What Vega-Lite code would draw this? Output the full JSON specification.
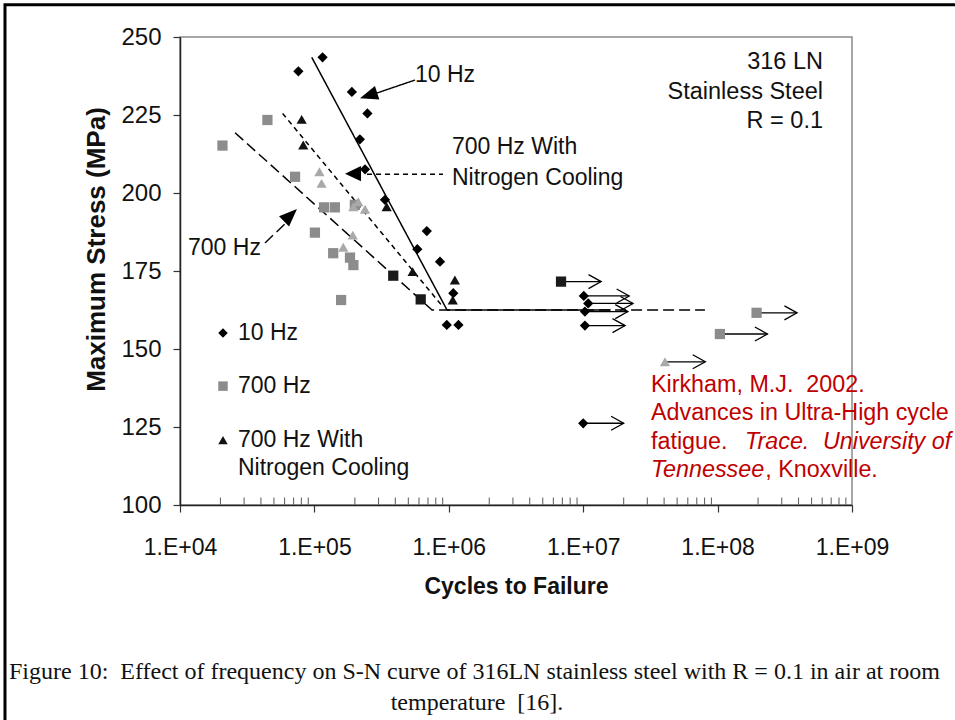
{
  "$schema": "https://vega.github.io/schema/vega-lite/v6.json",
  "width": 672,
  "height": 468,
  "autosize": {"type": "none"},
  "padding": {"left": 180, "top": 37, "right": 103, "bottom": 215},
  "background": "white",
  "config": {
    "view": {"stroke": "#8a8a8a", "strokeWidth": 1.5},
    "font": "Liberation Sans",
    "axis": {"grid": false, "labelFont": "Liberation Sans", "titleFont": "Liberation Sans", "labelColor": "#111", "titleColor": "#111", "domainColor": "#222", "domainWidth": 1.5, "tickColor": "#333", "tickWidth": 1.2, "tickSize": 7}
  },
  "datasets": {
    "points": [
      {"series": "10 Hz", "group": "10 Hz", "cycles": 76000, "stress": 239},
      {"series": "10 Hz", "group": "10 Hz", "cycles": 115000, "stress": 243.5},
      {"series": "10 Hz", "group": "10 Hz", "cycles": 190000, "stress": 232.4},
      {"series": "10 Hz", "group": "10 Hz", "cycles": 248000, "stress": 225.5},
      {"series": "10 Hz", "group": "10 Hz", "cycles": 218000, "stress": 217.2},
      {"series": "10 Hz", "group": "10 Hz", "cycles": 238000, "stress": 207.6},
      {"series": "10 Hz", "group": "10 Hz", "cycles": 335000, "stress": 197.8},
      {"series": "10 Hz", "group": "10 Hz", "cycles": 686000, "stress": 187.8},
      {"series": "10 Hz", "group": "10 Hz", "cycles": 583000, "stress": 182.0},
      {"series": "10 Hz", "group": "10 Hz", "cycles": 860000, "stress": 178.0},
      {"series": "10 Hz", "group": "10 Hz", "cycles": 1080000, "stress": 167.9},
      {"series": "10 Hz", "group": "10 Hz", "cycles": 966000, "stress": 157.7},
      {"series": "10 Hz", "group": "10 Hz", "cycles": 1180000, "stress": 157.7},
      {"series": "10 Hz", "group": "10 Hz", "cycles": 10100000, "stress": 167.0},
      {"series": "10 Hz", "group": "10 Hz", "cycles": 10900000, "stress": 164.6},
      {"series": "10 Hz", "group": "10 Hz", "cycles": 10300000, "stress": 162.0},
      {"series": "10 Hz", "group": "10 Hz", "cycles": 10300000, "stress": 157.5},
      {"series": "10 Hz", "group": "10 Hz", "cycles": 10000000, "stress": 126.2},
      {"series": "700 Hz", "group": "700 Hz", "cycles": 20700, "stress": 215.2},
      {"series": "700 Hz", "group": "700 Hz", "cycles": 44700, "stress": 223.4},
      {"series": "700 Hz", "group": "700 Hz", "cycles": 71800, "stress": 205.2},
      {"series": "700 Hz", "group": "700 Hz", "cycles": 118000, "stress": 195.4},
      {"series": "700 Hz", "group": "700 Hz", "cycles": 142000, "stress": 195.4},
      {"series": "700 Hz", "group": "700 Hz", "cycles": 100900, "stress": 187.3},
      {"series": "700 Hz", "group": "700 Hz", "cycles": 138000, "stress": 180.7},
      {"series": "700 Hz", "group": "700 Hz", "cycles": 184000, "stress": 179.3},
      {"series": "700 Hz", "group": "700 Hz", "cycles": 195000, "stress": 176.9},
      {"series": "700 Hz", "group": "700 Hz", "cycles": 158000, "stress": 165.7},
      {"series": "700 Hz", "group": "700 Hz", "cycles": 200000, "stress": 196.2},
      {"series": "700 Hz", "group": "700 Hz", "cycles": 104000000, "stress": 154.8},
      {"series": "700 Hz", "group": "700 Hz", "cycles": 195000000, "stress": 161.6},
      {"series": "700 Hz", "group": "700 Hz dark", "cycles": 386000, "stress": 173.5},
      {"series": "700 Hz", "group": "700 Hz dark", "cycles": 618000, "stress": 165.9},
      {"series": "700 Hz", "group": "700 Hz dark", "cycles": 6840000, "stress": 171.6},
      {"series": "N2", "group": "N2", "cycles": 80400, "stress": 223.6},
      {"series": "N2", "group": "N2", "cycles": 82600, "stress": 215.4},
      {"series": "N2", "group": "N2", "cycles": 345000, "stress": 195.6},
      {"series": "N2", "group": "N2", "cycles": 538000, "stress": 174.8},
      {"series": "N2", "group": "N2", "cycles": 1110000, "stress": 172.1},
      {"series": "N2", "group": "N2", "cycles": 1070000, "stress": 165.7},
      {"series": "N2", "group": "N2 light", "cycles": 109000, "stress": 206.8},
      {"series": "N2", "group": "N2 light", "cycles": 113000, "stress": 203.1},
      {"series": "N2", "group": "N2 light", "cycles": 195000, "stress": 195.6},
      {"series": "N2", "group": "N2 light", "cycles": 212000, "stress": 197.2},
      {"series": "N2", "group": "N2 light", "cycles": 238000, "stress": 194.8},
      {"series": "N2", "group": "N2 light", "cycles": 193000, "stress": 186.5},
      {"series": "N2", "group": "N2 light", "cycles": 164000, "stress": 182.6},
      {"series": "N2", "group": "N2 light", "cycles": 40600000, "stress": 145.9}
    ],
    "legend": [
      {"series": "10 Hz", "group": "10 Hz", "cycles": 20890, "stress": 155.1},
      {"series": "700 Hz", "group": "700 Hz", "cycles": 20890, "stress": 138.1},
      {"series": "N2", "group": "N2", "cycles": 20890, "stress": 120.8}
    ],
    "runouts": [
      {"cycles": 10100000, "cycles_end": 22000000, "stress": 167.0},
      {"cycles": 10900000, "cycles_end": 23500000, "stress": 164.6},
      {"cycles": 10300000, "cycles_end": 21500000, "stress": 162.0},
      {"cycles": 10300000, "cycles_end": 20500000, "stress": 157.5},
      {"cycles": 10000000, "cycles_end": 20000000, "stress": 126.2},
      {"cycles": 6840000, "cycles_end": 13600000, "stress": 171.6},
      {"cycles": 104000000, "cycles_end": 235000000, "stress": 154.8},
      {"cycles": 195000000, "cycles_end": 390000000, "stress": 161.6},
      {"cycles": 40600000, "cycles_end": 81000000, "stress": 145.9}
    ],
    "fits": [
      {"fit": "10 Hz", "cycles": 95500, "stress": 243.5},
      {"fit": "10 Hz", "cycles": 970000, "stress": 162.5},
      {"fit": "10 Hz", "cycles": 16000000, "stress": 162.5},
      {"fit": "700 Hz", "cycles": 25700, "stress": 219.3},
      {"fit": "700 Hz", "cycles": 750000, "stress": 162.5},
      {"fit": "700 Hz", "cycles": 80500000, "stress": 162.5},
      {"fit": "N2", "cycles": 58000, "stress": 225.5},
      {"fit": "N2", "cycles": 905000, "stress": 163.5}
    ],
    "leaders": [
      {"leader": "10 Hz", "cycles": 560500, "stress": 236.2},
      {"leader": "10 Hz", "cycles": 292000, "stress": 232.05},
      {"leader": "N2", "cycles": 246300, "stress": 206.0},
      {"leader": "N2", "cycles": 905000, "stress": 206.0},
      {"leader": "700 Hz", "cycles": 42900, "stress": 184.0},
      {"leader": "700 Hz", "cycles": 62500, "stress": 190.7}
    ],
    "minor": [
      {"cycles": 20000, "stress": 100}, {"cycles": 30000, "stress": 100}, {"cycles": 40000, "stress": 100}, {"cycles": 50000, "stress": 100}, {"cycles": 60000, "stress": 100}, {"cycles": 70000, "stress": 100}, {"cycles": 80000, "stress": 100}, {"cycles": 90000, "stress": 100},
      {"cycles": 200000, "stress": 100}, {"cycles": 300000, "stress": 100}, {"cycles": 400000, "stress": 100}, {"cycles": 500000, "stress": 100}, {"cycles": 600000, "stress": 100}, {"cycles": 700000, "stress": 100}, {"cycles": 800000, "stress": 100}, {"cycles": 900000, "stress": 100},
      {"cycles": 2000000, "stress": 100}, {"cycles": 3000000, "stress": 100}, {"cycles": 4000000, "stress": 100}, {"cycles": 5000000, "stress": 100}, {"cycles": 6000000, "stress": 100}, {"cycles": 7000000, "stress": 100}, {"cycles": 8000000, "stress": 100}, {"cycles": 9000000, "stress": 100},
      {"cycles": 20000000, "stress": 100}, {"cycles": 30000000, "stress": 100}, {"cycles": 40000000, "stress": 100}, {"cycles": 50000000, "stress": 100}, {"cycles": 60000000, "stress": 100}, {"cycles": 70000000, "stress": 100}, {"cycles": 80000000, "stress": 100}, {"cycles": 90000000, "stress": 100},
      {"cycles": 200000000, "stress": 100}, {"cycles": 300000000, "stress": 100}, {"cycles": 400000000, "stress": 100}, {"cycles": 500000000, "stress": 100}, {"cycles": 600000000, "stress": 100}, {"cycles": 700000000, "stress": 100}, {"cycles": 800000000, "stress": 100}, {"cycles": 900000000, "stress": 100}
    ],
    "labels_left": [
      {"text": "10 Hz", "cycles": 560500, "stress": 237.8},
      {"text": "700 Hz With", "cycles": 1056000, "stress": 214.7},
      {"text": "Nitrogen Cooling", "cycles": 1056000, "stress": 204.8},
      {"text": "700 Hz", "cycles": 11470, "stress": 182.4},
      {"text": "10 Hz", "cycles": 27000, "stress": 155.1},
      {"text": "700 Hz", "cycles": 27000, "stress": 138.1},
      {"text": "700 Hz With", "cycles": 27000, "stress": 120.8},
      {"text": "Nitrogen Cooling", "cycles": 27000, "stress": 111.9}
    ],
    "labels_right": [
      {"text": "316 LN", "cycles": 608500000, "stress": 242.0},
      {"text": "Stainless Steel", "cycles": 608500000, "stress": 232.4},
      {"text": "R = 0.1", "cycles": 608500000, "stress": 223.1}
    ],
    "cite_normal": [
      {"text": "Kirkham, M.J.\u00a0 2002.", "cycles": 31950000, "stress": 138.46},
      {"text": "Advances in Ultra-High cycle", "cycles": 31950000, "stress": 129.5},
      {"text": "fatigue.", "cycles": 31950000, "stress": 120.2},
      {"text": ", Knoxville.", "cycles": 226000000, "stress": 111.2}
    ],
    "cite_italic": [
      {"text": "Trace.", "cycles": 160000000, "stress": 120.2},
      {"text": "University of", "cycles": 608500000, "stress": 120.2},
      {"text": "Tennessee", "cycles": 31950000, "stress": 111.2}
    ],
    "caption_left": [
      {"text": "Figure 10:\u00a0 Effect of frequency on S-N curve of 316LN stainless steel with R = 0.1 in air at room", "cycles": 534, "stress": 46.5}
    ],
    "caption_center": [
      {"text": "temperature\u00a0 [16].", "cycles": 1621000, "stress": 36.5}
    ],
    "frame": [
      {"cycles": 498.7, "cycles2": 13000000000, "stress": 260.3, "stress2": 18}
    ]
  },
  "encoding": {
    "x": {"field": "cycles", "type": "quantitative", "scale": {"type": "log", "domain": [10000, 1000000000], "nice": false},
      "axis": {"values": [10000, 100000, 1000000, 10000000, 100000000, 1000000000], "labelExpr": "'1.E+0' + round(log(datum.value)/LN10)", "labelFontSize": 23, "labelPadding": 24, "labelFlush": false, "title": "Cycles to Failure", "titleFontSize": 23, "titleFontWeight": "bold", "titlePadding": 16}},
    "y": {"field": "stress", "type": "quantitative", "scale": {"domain": [100, 250], "nice": false, "zero": false},
      "axis": {"values": [100, 125, 150, 175, 200, 225, 250], "labelFontSize": 24, "labelPadding": 12, "title": "Maximum Stress (MPa)", "titleFontSize": 26, "titleFontWeight": "bold", "titlePadding": 11, "titleY": 212}}
  },
  "layer": [
    {"data": {"name": "frame"}, "mark": {"type": "rect", "fill": null, "stroke": "#000", "strokeWidth": 3},
      "encoding": {"x2": {"field": "cycles2"}, "y2": {"field": "stress2"}}},
    {"data": {"name": "minor"}, "mark": {"type": "rule", "color": "#666", "strokeWidth": 1.1},
      "encoding": {"y2": {"datum": 102.4}}},
    {"data": {"name": "fits"}, "mark": {"type": "line", "color": "#000", "strokeWidth": 1.5},
      "encoding": {"detail": {"field": "fit"}, "strokeDash": {"field": "fit", "type": "nominal", "scale": {"domain": ["10 Hz", "700 Hz", "N2"], "range": [[1, 0], [11, 5], [5, 4]]}, "legend": null}, "order": {"field": "cycles"}}},
    {"data": {"name": "leaders"}, "mark": {"type": "line", "color": "#000", "strokeWidth": 1.4},
      "encoding": {"detail": {"field": "leader"}, "strokeDash": {"field": "leader", "type": "nominal", "scale": {"domain": ["10 Hz", "N2", "700 Hz"], "range": [[1, 0], [6, 4], [6, 4]]}, "legend": null}}},
    {"data": {"name": "runouts"}, "mark": {"type": "rule", "color": "#000", "strokeWidth": 1.3},
      "encoding": {"x2": {"field": "cycles_end"}}},
    {"data": {"name": "runouts"}, "mark": {"type": "point", "shape": "M-1.8,-1L0,0L-1.8,1", "filled": false, "size": 196, "strokeWidth": 1.3, "color": "#000", "opacity": 1},
      "encoding": {"x": {"field": "cycles_end", "type": "quantitative", "scale": {"type": "log", "domain": [10000, 1000000000], "nice": false}}}},
    {"data": {"name": "points"}, "mark": {"type": "point", "filled": true, "opacity": 1, "size": 105},
      "encoding": {
        "shape": {"field": "series", "type": "nominal", "scale": {"domain": ["10 Hz", "700 Hz", "N2"], "range": ["diamond", "square", "triangle-up"]}, "legend": null},
        "color": {"field": "group", "type": "nominal", "scale": {"domain": ["10 Hz", "700 Hz", "700 Hz dark", "N2", "N2 light"], "range": ["#000000", "#8c8c8c", "#1a1a1a", "#111111", "#a9a9a9"]}, "legend": null}}},
    {"data": {"name": "legend"}, "mark": {"type": "point", "filled": true, "opacity": 1, "size": 90},
      "encoding": {
        "shape": {"field": "series", "type": "nominal", "scale": {"domain": ["10 Hz", "700 Hz", "N2"], "range": ["diamond", "square", "triangle-up"]}, "legend": null},
        "color": {"field": "group", "type": "nominal", "scale": {"domain": ["10 Hz", "700 Hz", "700 Hz dark", "N2", "N2 light"], "range": ["#000000", "#8c8c8c", "#1a1a1a", "#111111", "#a9a9a9"]}, "legend": null}}},
    {"data": {"values": [{"cycles": 218500, "stress": 230.35}]}, "mark": {"type": "point", "shape": "M0,0L-2,-0.8L-2,0.8Z", "filled": true, "size": 324, "angle": 162, "color": "#000", "opacity": 1}},
    {"data": {"values": [{"cycles": 169000, "stress": 206.2}]}, "mark": {"type": "point", "shape": "M0,0L-2,-0.95L-2,0.95Z", "filled": true, "size": 256, "angle": 180, "color": "#000", "opacity": 1}},
    {"data": {"values": [{"cycles": 74200, "stress": 194.9}]}, "mark": {"type": "point", "shape": "M0,0L-2,-0.8L-2,0.8Z", "filled": true, "size": 324, "angle": 316, "color": "#000", "opacity": 1}},
    {"data": {"name": "labels_left"}, "mark": {"type": "text", "align": "left", "baseline": "middle", "fontSize": 23, "font": "Liberation Sans", "color": "#111"},
      "encoding": {"text": {"field": "text"}}},
    {"data": {"name": "labels_right"}, "mark": {"type": "text", "align": "right", "baseline": "middle", "fontSize": 23.5, "font": "Liberation Sans", "color": "#111"},
      "encoding": {"text": {"field": "text"}}},
    {"data": {"name": "cite_normal"}, "mark": {"type": "text", "align": "left", "baseline": "middle", "fontSize": 23.3, "font": "Liberation Sans", "color": "#C00000"},
      "encoding": {"text": {"field": "text"}}},
    {"data": {"name": "cite_italic"}, "mark": {"type": "text", "align": "left", "baseline": "middle", "fontSize": 23.3, "fontStyle": "italic", "font": "Liberation Sans", "color": "#C00000"},
      "encoding": {"text": {"field": "text"}}},
    {"data": {"name": "caption_left"}, "mark": {"type": "text", "align": "left", "baseline": "middle", "fontSize": 24, "font": "Liberation Serif", "color": "#111"},
      "encoding": {"text": {"field": "text"}}},
    {"data": {"name": "caption_center"}, "mark": {"type": "text", "align": "center", "baseline": "middle", "fontSize": 24, "font": "Liberation Serif", "color": "#111"},
      "encoding": {"text": {"field": "text"}}}
  ]
}
